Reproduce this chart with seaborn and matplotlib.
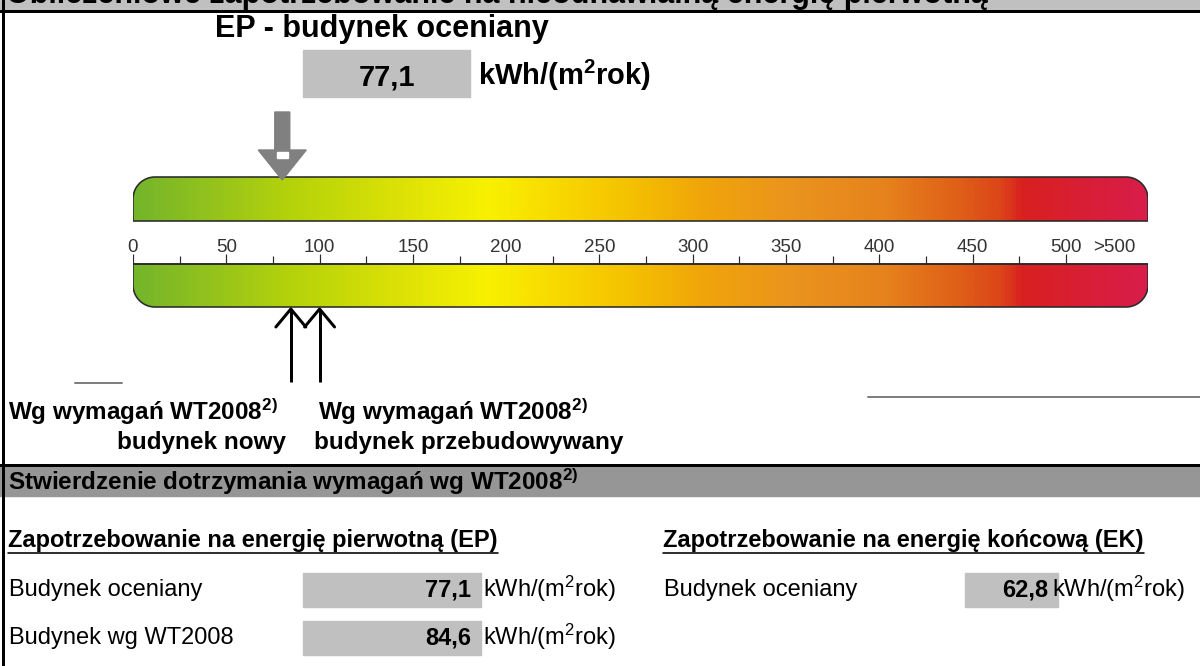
import matplotlib.pyplot as plt
import numpy as np
import seaborn as sns
from matplotlib.colors import LinearSegmentedColormap
from matplotlib.patches import Polygon, Rectangle

# --- data ---
title = "Obliczeniowe zapotrzebowanie na nieodnawialną energię pierwotną"
ep_value = 77.1
ep_arrow_value = 80.0
req_values = [84.6, 100.0]
req_labels = ["budynek nowy", "budynek przebudowywany"]
scale_max = 544
major_ticks = list(range(0, 501, 50))
minor_ticks = list(range(25, 500, 50))
scale_labels = [str(v) for v in major_ticks] + [">500"]
scale_label_pos = major_ticks + [526]
grad_stops = [0, 45, 85, 140, 190, 230, 265, 305, 355, 405, 445, 466, 478, 544]
grad_colors = ["#74b52b", "#97c41b", "#b5d30a", "#dbe106", "#f8f100", "#f8d700",
               "#f5c200", "#f0a50a", "#ea931e", "#e6821c", "#df5d18", "#dc4518",
               "#d82020", "#d81d4a"]
ep_rows = ["Budynek oceniany", "Budynek wg WT2008"]
ep_vals = [77.1, 84.6]
ek_rows = ["Budynek oceniany"]
ek_vals = [62.8]
unit = "kWh/(m$^{2}$rok)"
unit_bold = r"kWh/(m$^{\mathbf{2}}$rok)"
sup = r"$^{\mathbf{2)}}$"

sns.set_theme(style="white")
plt.rcParams["font.family"] = ["Liberation Sans", "DejaVu Sans"]
plt.rcParams["text.color"] = "black"
plt.rcParams["mathtext.fontset"] = "custom"
plt.rcParams["mathtext.rm"] = "Liberation Sans"
plt.rcParams["mathtext.it"] = "Liberation Sans:italic"
plt.rcParams["mathtext.bf"] = "Liberation Sans:bold"

W, H = 1200, 666
fig = plt.figure(figsize=(12, 6.66), dpi=100)
ax = fig.add_axes([0, 0, 1, 1])
ax.set_xlim(0, W)
ax.set_ylim(H, 0)
ax.axis("off")

px = 0.72  # points per pixel

# header band
ax.add_patch(Rectangle((0, 0), W, 10, color="#c0c0c0", zorder=1))
ax.text(6, 3, title, fontsize=22, fontweight="bold", va="baseline", zorder=2)
ax.plot([0, W], [11, 11], color="black", lw=3 * px, zorder=3)
ax.plot([2.5, 2.5], [0, H], color="black", lw=3 * px, zorder=3)

ax.text(382, 29, "EP - budynek oceniany", fontsize=22, fontweight="bold", ha="center", va="center")
ax.add_patch(Rectangle((303, 50), 167, 47, color="#c0c0c0"))
ax.text(387, 77, f"{ep_value:.1f}".replace(".", ","), fontsize=21, fontweight="bold",
        ha="center", va="center")
ax.text(478, 75, unit_bold, fontsize=21, fontweight="bold", ha="left", va="center")

# --- scale axes: x in kWh/(m2 rok), y in pixel rows ---
x0_px, x1_px = 133, 1148
k = (x1_px - x0_px) / scale_max
ax_s = fig.add_axes([x0_px / W, 1 - 390 / H, (x1_px - x0_px) / W, 290 / H])
ax_s.patch.set_alpha(0)
ax_s.axis("off")

cmap = LinearSegmentedColormap.from_list(
    "ep", list(zip(np.array(grad_stops) / scale_max, grad_colors)))
grad = np.linspace(0, 1, 600)[None, :]


def bar_points(y0, y1, r, top):
    rx = r / k
    pts = []
    if top:
        pts.append((0, y1))
        t = np.linspace(np.pi, np.pi / 2, 20)
        pts += list(zip(rx + rx * np.cos(t), y0 + r - r * np.sin(t)))
        t = np.linspace(np.pi / 2, 0, 20)
        pts += list(zip(scale_max - rx + rx * np.cos(t), y0 + r - r * np.sin(t)))
        pts.append((scale_max, y1))
    else:
        pts.append((0, y0))
        pts.append((scale_max, y0))
        t = np.linspace(0, -np.pi / 2, 20)
        pts += list(zip(scale_max - rx + rx * np.cos(t), y1 - r - r * np.sin(t)))
        t = np.linspace(-np.pi / 2, -np.pi, 20)
        pts += list(zip(rx + rx * np.cos(t), y1 - r - r * np.sin(t)))
    return pts


for (y0, y1, top) in [(177, 221, True), (264, 307, False)]:
    poly = Polygon(bar_points(y0, y1, 22, top), closed=True, fc="none",
                   ec="#2a2a2a", lw=1.6 * px, zorder=3)
    ax_s.add_patch(poly)
    im = ax_s.imshow(grad, extent=(0, scale_max, y1, y0), aspect="auto", cmap=cmap, zorder=2)
    im.set_clip_path(poly)

ax_s.plot([0, scale_max], [264, 264], color="#2a2a2a", lw=1.6 * px, zorder=4)
ax_s.vlines(major_ticks, 254, 264, color="#2a2a2a", lw=1.2 * px, zorder=4)
ax_s.vlines(minor_ticks, 256, 264, color="#2a2a2a", lw=1.2 * px, zorder=4)
for lab, pos in zip(scale_labels, scale_label_pos):
    ax_s.text(pos, 247, lab, fontsize=13.5, color="#333333", ha="center", va="center")

# gray EP arrow
c = ep_arrow_value
sw, hw = 7.5 / k, 24 / k
ax_s.add_patch(Polygon([(c - sw, 112), (c + sw, 112), (c + sw, 150), (c + hw, 150), (c, 180),
                        (c - hw, 150), (c - sw, 150)], closed=True, color="#808080", zorder=5))
ax_s.add_patch(Rectangle((c - 5 / k, 152), 11 / k, 6, color="white", zorder=6))

# black requirement arrows
aw = 15 / k
for v in req_values:
    ax_s.plot([v, v], [309, 382], color="black", lw=3 * px, zorder=5, solid_capstyle="butt")
    ax_s.plot([v - aw, v, v + aw], [327, 309, 327], color="black", lw=3 * px, zorder=5)

ax_s.set_xlim(0, scale_max)
ax_s.set_ylim(390, 100)

# labels under the scale
ax.plot([75, 122], [383, 383], color="#7f7f7f", lw=2 * px)
ax.plot([868, W], [397, 397], color="#7f7f7f", lw=2 * px)
ax.text(8, 412, "Wg wymagań WT2008" + sup, fontsize=17.5, fontweight="bold", va="center")
ax.text(286, 443, req_labels[0], fontsize=17.5, fontweight="bold", ha="right", va="center")
ax.text(318, 412, "Wg wymagań WT2008" + sup, fontsize=17.5, fontweight="bold", va="center")
ax.text(314, 443, req_labels[1], fontsize=17.5, fontweight="bold", ha="left", va="center")

# section band
ax.plot([0, W], [464.5, 464.5], color="black", lw=3 * px, zorder=3)
ax.add_patch(Rectangle((0, 466), W, 30, color="#969696", zorder=1))
ax.text(8, 482, "Stwierdzenie dotrzymania wymagań wg WT2008" + sup, fontsize=17.5,
        fontweight="bold", va="center", zorder=2)

fig.canvas.draw()
renderer = fig.canvas.get_renderer()
inv = ax.transData.inverted()
for x, txt in [(8, "Zapotrzebowanie na energię pierwotną (EP)"),
               (663, "Zapotrzebowanie na energię końcową (EK)")]:
    t = ax.text(x, 540, txt, fontsize=17, fontweight="bold", va="center")
    bb = t.get_window_extent(renderer)
    (a, _), (b, _) = inv.transform([[bb.x0, bb.y0], [bb.x1, bb.y0]])
    ax.plot([a, b], [553, 553], color="black", lw=1.6 * px)

row_y = [590, 638]
for i, (name, val) in enumerate(zip(ep_rows, ep_vals)):
    y = row_y[i]
    ax.text(9, y, name, fontsize=17, va="center")
    ax.add_patch(Rectangle((303, y - 17), 178, 34, color="#c0c0c0"))
    ax.text(471, y, f"{val:.1f}".replace(".", ","), fontsize=17, fontweight="bold",
            ha="right", va="center")
    ax.text(483, y - 1, unit, fontsize=17, va="center")

for i, (name, val) in enumerate(zip(ek_rows, ek_vals)):
    y = row_y[i]
    ax.text(664, y, name, fontsize=17, va="center")
    ax.add_patch(Rectangle((965, y - 17), 93, 34, color="#c0c0c0"))
    ax.text(1048, y, f"{val:.1f}".replace(".", ","), fontsize=17, fontweight="bold",
            ha="right", va="center")
    ax.text(1052, y - 1, unit, fontsize=17, va="center")

fig.savefig("out.png", dpi=100)
